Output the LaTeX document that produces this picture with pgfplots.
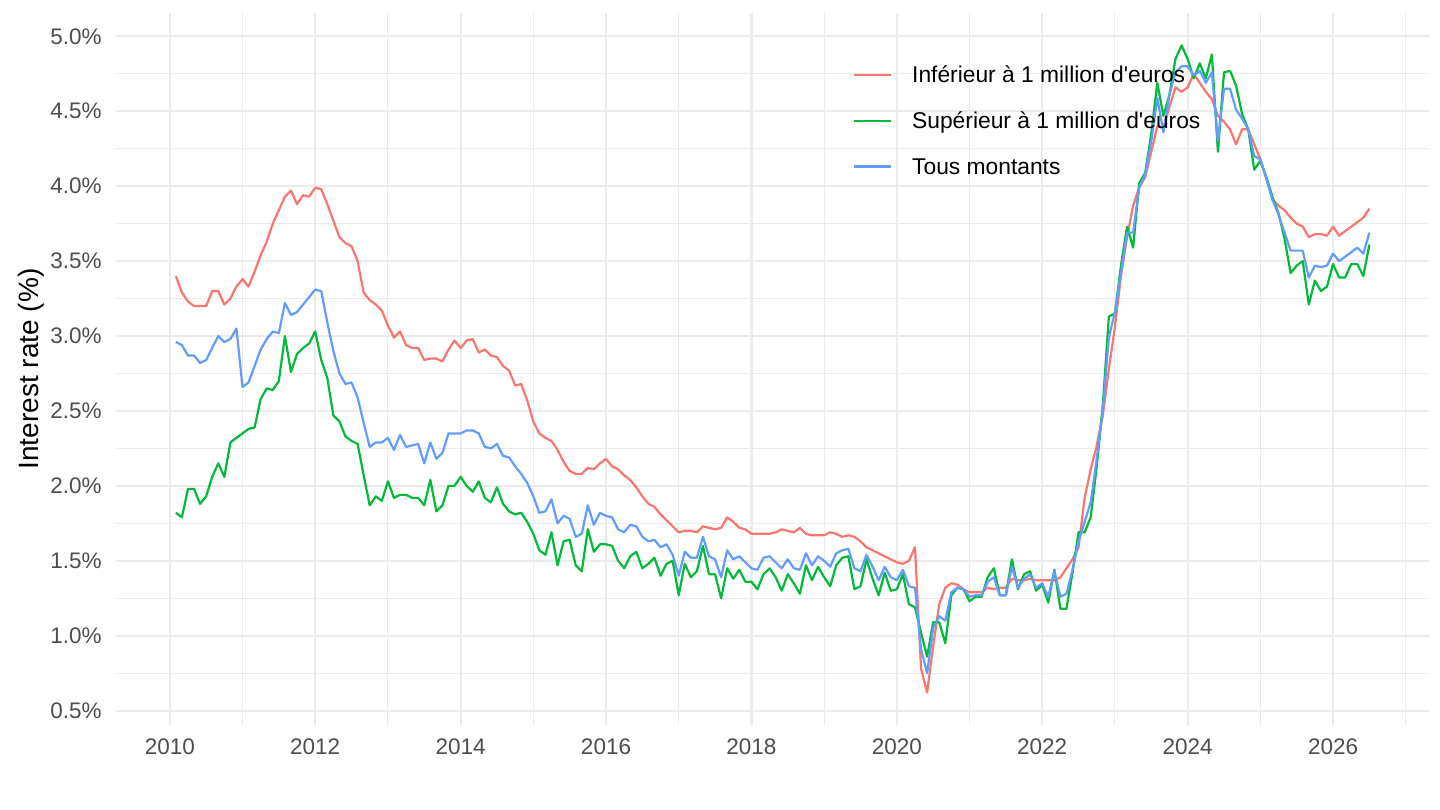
\documentclass[border=0pt]{standalone}
\usepackage{pgfplots}
\usepackage{pgfplotstable}
\pgfplotsset{compat=1.18}
\usepackage{fontspec}
\setmainfont{Liberation Sans}
\definecolor{gridc}{HTML}{EBEBEB}
\definecolor{tickg}{HTML}{4D4D4D}
\definecolor{cred}{HTML}{F8766D}
\definecolor{cgreen}{HTML}{00BA38}
\definecolor{cblue}{HTML}{619CFF}
% i = month index (0 = Feb 2010); R = inferieur, G = superieur, B = tous montants
\pgfplotstableread{
i R G B
0 3.40 1.82 2.96
1 3.29 1.79 2.94
2 3.23 1.98 2.87
3 3.20 1.98 2.87
4 3.20 1.88 2.82
5 3.20 1.93 2.84
6 3.30 2.06 2.92
7 3.30 2.15 3.00
8 3.21 2.06 2.96
9 3.25 2.29 2.98
10 3.33 2.32 3.05
11 3.38 2.35 2.66
12 3.33 2.38 2.69
13 3.43 2.39 2.80
14 3.54 2.58 2.91
15 3.63 2.65 2.98
16 3.75 2.64 3.03
17 3.84 2.70 3.02
18 3.93 3.00 3.22
19 3.97 2.76 3.14
20 3.88 2.88 3.16
21 3.94 2.92 3.21
22 3.93 2.95 3.26
23 3.99 3.03 3.31
24 3.98 2.84 3.30
25 3.88 2.72 3.09
26 3.77 2.47 2.90
27 3.66 2.43 2.75
28 3.62 2.33 2.68
29 3.60 2.30 2.69
30 3.50 2.28 2.59
31 3.29 2.07 2.42
32 3.24 1.87 2.26
33 3.21 1.93 2.29
34 3.17 1.90 2.29
35 3.07 2.03 2.32
36 2.99 1.92 2.24
37 3.03 1.94 2.34
38 2.94 1.94 2.26
39 2.92 1.92 2.27
40 2.92 1.92 2.28
41 2.84 1.87 2.15
42 2.85 2.04 2.29
43 2.85 1.83 2.18
44 2.83 1.87 2.22
45 2.91 2.00 2.35
46 2.97 2.00 2.35
47 2.92 2.06 2.35
48 2.97 2.00 2.37
49 2.98 1.96 2.37
50 2.89 2.03 2.35
51 2.91 1.92 2.26
52 2.87 1.89 2.25
53 2.86 1.99 2.28
54 2.80 1.88 2.20
55 2.77 1.83 2.19
56 2.67 1.81 2.13
57 2.68 1.82 2.08
58 2.57 1.76 2.02
59 2.43 1.68 1.93
60 2.35 1.57 1.82
61 2.32 1.54 1.83
62 2.30 1.69 1.91
63 2.24 1.47 1.75
64 2.16 1.63 1.80
65 2.10 1.64 1.78
66 2.08 1.47 1.66
67 2.08 1.43 1.68
68 2.12 1.71 1.87
69 2.11 1.56 1.74
70 2.15 1.61 1.82
71 2.18 1.61 1.80
72 2.13 1.60 1.79
73 2.11 1.50 1.71
74 2.07 1.45 1.69
75 2.04 1.53 1.74
76 1.99 1.56 1.73
77 1.93 1.45 1.66
78 1.88 1.48 1.63
79 1.86 1.52 1.64
80 1.81 1.40 1.59
81 1.77 1.48 1.61
82 1.73 1.50 1.54
83 1.69 1.27 1.40
84 1.70 1.48 1.56
85 1.70 1.39 1.52
86 1.69 1.43 1.52
87 1.73 1.60 1.66
88 1.72 1.41 1.53
89 1.71 1.41 1.51
90 1.72 1.25 1.39
91 1.79 1.45 1.57
92 1.76 1.38 1.51
93 1.72 1.44 1.53
94 1.71 1.36 1.49
95 1.68 1.36 1.45
96 1.68 1.31 1.44
97 1.68 1.41 1.52
98 1.68 1.45 1.53
99 1.69 1.39 1.49
100 1.71 1.30 1.45
101 1.70 1.41 1.51
102 1.69 1.35 1.45
103 1.72 1.28 1.44
104 1.68 1.47 1.55
105 1.67 1.37 1.47
106 1.67 1.46 1.53
107 1.67 1.39 1.50
108 1.69 1.33 1.46
109 1.68 1.47 1.55
110 1.66 1.52 1.57
111 1.67 1.53 1.58
112 1.66 1.31 1.45
113 1.63 1.33 1.43
114 1.59 1.51 1.54
115 1.57 1.38 1.46
116 1.55 1.27 1.37
117 1.53 1.42 1.46
118 1.51 1.30 1.39
119 1.49 1.31 1.37
120 1.48 1.41 1.44
121 1.50 1.21 1.33
122 1.59 1.19 1.32
123 0.78 1.02 0.91
124 0.62 0.86 0.75
125 0.93 1.09 1.05
126 1.21 1.09 1.13
127 1.32 0.95 1.10
128 1.35 1.27 1.29
129 1.34 1.32 1.32
130 1.31 1.31 1.31
131 1.29 1.23 1.26
132 1.29 1.26 1.27
133 1.29 1.26 1.27
134 1.32 1.39 1.36
135 1.31 1.45 1.39
136 1.32 1.27 1.27
137 1.32 1.27 1.27
138 1.38 1.51 1.46
139 1.37 1.31 1.32
140 1.37 1.41 1.38
141 1.38 1.43 1.41
142 1.37 1.30 1.32
143 1.37 1.34 1.35
144 1.37 1.22 1.26
145 1.37 1.44 1.43
146 1.39 1.18 1.26
147 1.45 1.18 1.28
148 1.51 1.42 1.44
149 1.59 1.69 1.63
150 1.92 1.69 1.76
151 2.11 1.79 1.89
152 2.27 2.13 2.18
153 2.47 2.54 2.51
154 2.78 3.13 2.99
155 3.06 3.15 3.16
156 3.40 3.47 3.42
157 3.66 3.73 3.69
158 3.87 3.59 3.69
159 3.99 4.02 3.99
160 4.06 4.09 4.08
161 4.23 4.35 4.30
162 4.40 4.69 4.59
163 4.39 4.47 4.36
164 4.53 4.61 4.61
165 4.66 4.85 4.76
166 4.63 4.94 4.80
167 4.66 4.85 4.80
168 4.75 4.72 4.74
169 4.69 4.82 4.77
170 4.63 4.72 4.69
171 4.58 4.88 4.76
172 4.47 4.23 4.30
173 4.43 4.76 4.65
174 4.38 4.77 4.65
175 4.28 4.67 4.51
176 4.38 4.48 4.45
177 4.38 4.38 4.38
178 4.28 4.11 4.20
179 4.18 4.17 4.18
180 4.05 4.06 4.05
181 3.91 3.93 3.91
182 3.87 3.82 3.81
183 3.84 3.65 3.69
184 3.79 3.42 3.57
185 3.75 3.47 3.57
186 3.73 3.50 3.57
187 3.66 3.21 3.39
188 3.68 3.37 3.47
189 3.68 3.30 3.46
190 3.67 3.33 3.47
191 3.73 3.48 3.55
192 3.67 3.39 3.50
193 3.70 3.39 3.53
194 3.73 3.48 3.56
195 3.76 3.48 3.59
196 3.79 3.40 3.55
197 3.85 3.61 3.69
}\rates
\begin{document}
\begin{tikzpicture}
\path[use as bounding box] (0,0) rectangle (720bp,405bp);
\begin{axis}[
  at={(58bp,42.5bp)}, anchor=south west,
  scale only axis, width=656.5bp, height=356bp,
  xmin=2009.26, xmax=2027.32, ymin=0.404, ymax=5.156,
  xtick={2010,2012,2014,2016,2018,2020,2022,2024,2026},
  xticklabels={2010,2012,2014,2016,2018,2020,2022,2024,2026},
  minor xtick={2011,2013,2015,2017,2019,2021,2023,2025,2027},
  ytick={0.5,1.0,1.5,2.0,2.5,3.0,3.5,4.0,4.5,5.0},
  yticklabels={0.5\%,1.0\%,1.5\%,2.0\%,2.5\%,3.0\%,3.5\%,4.0\%,4.5\%,5.0\%},
  minor ytick={0.75,1.25,1.75,2.25,2.75,3.25,3.75,4.25,4.75},
  grid=both,
  major grid style={color=gridc, line width=1.1bp},
  minor grid style={color=gridc, line width=0.55bp},
  axis line style={draw=none},
  major tick length=0pt, minor tick length=0pt,
  tick style={draw=none},
  tick label style={font=\fontsize{11.25bp}{13bp}\selectfont, text=tickg},
  xticklabel style={anchor=north, inner sep=0pt, yshift=-6.6bp},
  yticklabel style={anchor=east, inner sep=0pt, xshift=-7bp},
  ylabel={Interest rate (\%)},
  ylabel style={at={(axis description cs:-0.0647,0.5)}, anchor=center, font=\fontsize{14bp}{16bp}\selectfont, inner sep=0pt},
  legend style={at={(axis description cs:0.5613,0.9242)}, anchor=north west,
    draw=none, fill=none, inner sep=0pt, outer sep=0pt,
    row sep=11.9bp, column sep=10bp,
    font=\fontsize{11.4bp}{13bp}\selectfont,
    nodes={inner sep=0pt, text height=8bp, text depth=3bp}},
  legend cell align=left,
  legend image code/.code={\draw[#1] (0bp,1.5bp) -- (18.5bp,1.5bp);},
  every axis plot/.append style={line width=1.1bp, line join=round},
]
\addplot[color=cred] table[x expr=2010.0833+\thisrow{i}/12, y=R] {\rates};
\addlegendentry{Inférieur à 1 million d\textquotesingle euros}
\addplot[color=cgreen] table[x expr=2010.0833+\thisrow{i}/12, y=G] {\rates};
\addlegendentry{Supérieur à 1 million d\textquotesingle euros}
\addplot[color=cblue] table[x expr=2010.0833+\thisrow{i}/12, y=B] {\rates};
\addlegendentry{Tous montants}
\end{axis}
\end{tikzpicture}
\end{document}
